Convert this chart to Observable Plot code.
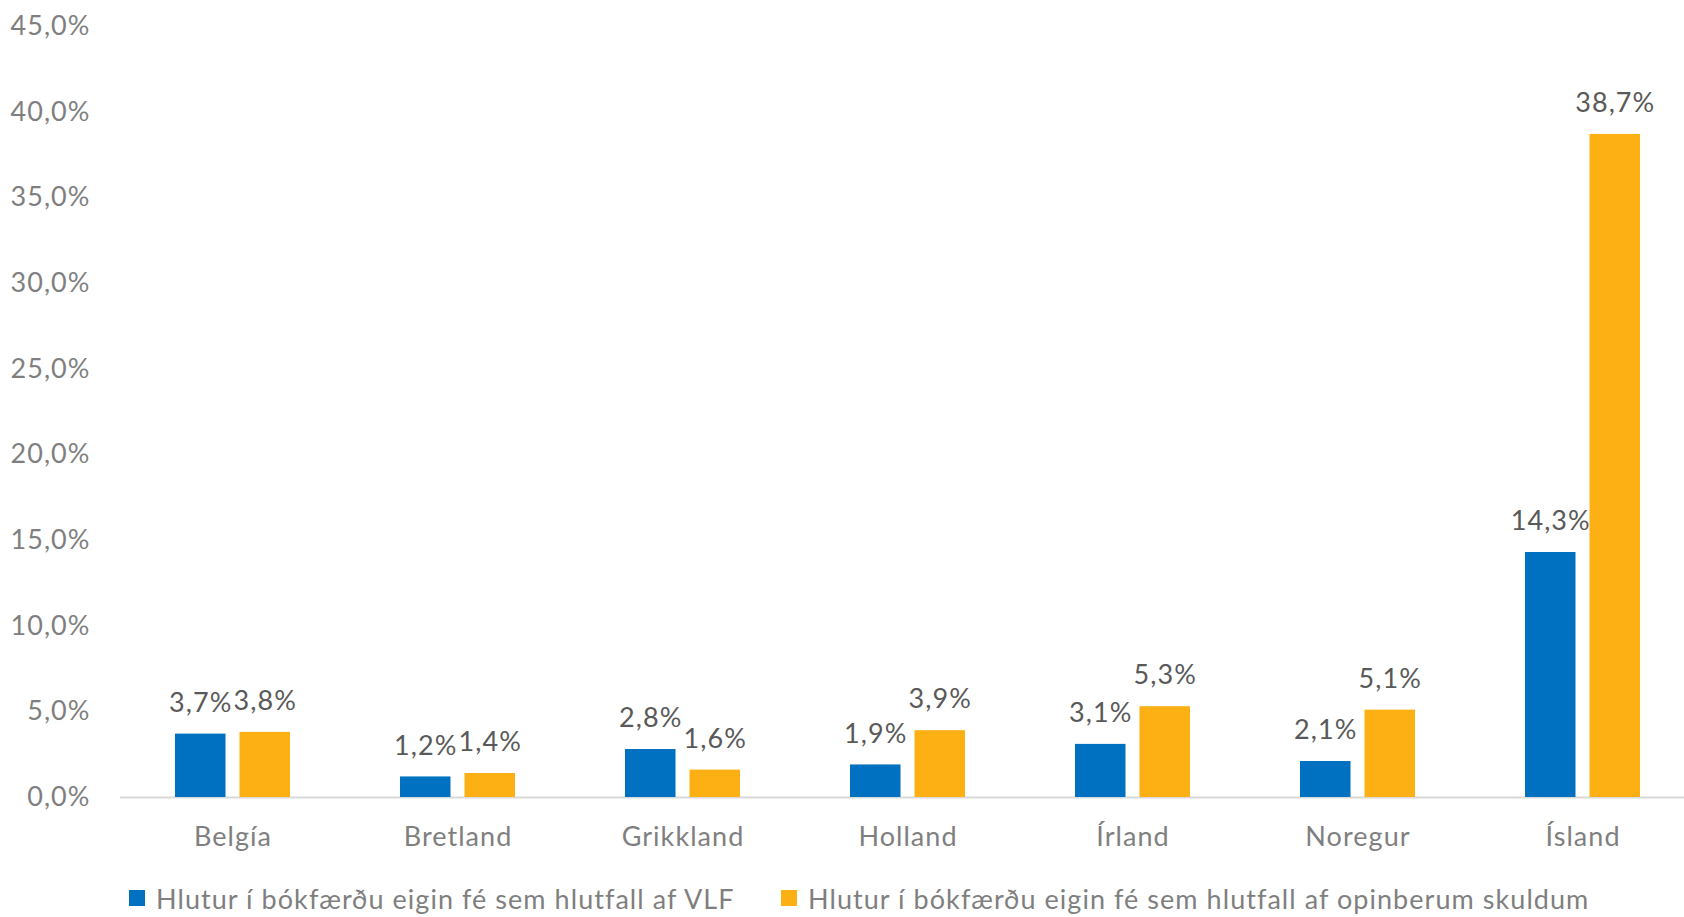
<!DOCTYPE html>
<html>
<head>
<meta charset="utf-8">
<script src="https://cdn.jsdelivr.net/npm/d3@7"></script>
<script src="https://cdn.jsdelivr.net/npm/@observablehq/plot@0.6"></script>
<style>
  html, body { margin: 0; padding: 0; background: #fff; overflow: hidden; }
  #wrap { position: relative; width: 1684px; height: 917px; font-family: Lato, "Open Sans", sans-serif; }
  #chart svg text { letter-spacing: 1.05px; }
  #legend { position: absolute; left: 0; top: 877px; height: 42px; width: 1684px; }
  .li { position: absolute; top: 0; display: flex; align-items: center; height: 42px; font-size: 27px; color: #7f7f7f; white-space: nowrap; letter-spacing: 1.05px; }
  .sw { width: 16px; height: 16px; margin-right: 11px; }
</style>
</head>
<body>
<div id="wrap">
  <div id="chart"></div>
  <div id="legend"></div>
</div>
<script>
const countries = ["Belgía", "Bretland", "Grikkland", "Holland", "Írland", "Noregur", "Ísland"];
const seriesNames = [
  "Hlutur í bókfærðu eigin fé sem hlutfall af VLF",
  "Hlutur í bókfærðu eigin fé sem hlutfall af opinberum skuldum"
];
const shareOfGDP = [3.7, 1.2, 2.8, 1.9, 3.1, 2.1, 14.3];
const shareOfDebt = [3.8, 1.4, 1.6, 3.9, 5.3, 5.1, 38.7];
const yTicks = [0, 5, 10, 15, 20, 25, 30, 35, 40, 45];
const colors = ["#0070C0", "#FCB013"];

const fmt = d => d.toFixed(1).replace(".", ",") + "%";
const gdpData = countries.map((c, i) => ({country: c, value: shareOfGDP[i]}));
const debtData = countries.map((c, i) => ({country: c, value: shareOfDebt[i]}));

const bandInner = 0.49;
const groupW = 115, barW = 50.5;
const inset = groupW - barW;
const off = groupW / 2 - barW / 2;

const chart = Plot.plot({
  width: 1684,
  height: 870,
  marginLeft: 120,
  marginRight: -11,
  marginTop: 26,
  marginBottom: 73,
  style: {fontFamily: "Lato, 'Open Sans', sans-serif", fontSize: "27px", color: "#7f7f7f", background: "#fff", overflow: "visible"},
  x: {domain: countries, paddingInner: bandInner, paddingOuter: bandInner / 2, label: null},
  y: {domain: [0, 45], label: null},
  marks: [
    Plot.axisY({ticks: yTicks, tickFormat: fmt, tickSize: 0, tickPadding: 30, fill: "#7f7f7f", fontSize: 27, label: null}),
    Plot.axisX({tickSize: 0, tickPadding: 29, fill: "#7f7f7f", fontSize: 27, label: null}),
    Plot.ruleY([0], {stroke: "#d9d9d9", strokeWidth: 2}),
    Plot.barY(gdpData, {x: "country", y: "value", fill: colors[0], insetRight: inset}),
    Plot.barY(debtData, {x: "country", y: "value", fill: colors[1], insetLeft: inset}),
    Plot.text(gdpData, {x: "country", y: "value", text: d => fmt(d.value), dx: -off, dy: -31, fill: "#595959", fontSize: 27, lineAnchor: "middle"}),
    Plot.text(debtData, {x: "country", y: "value", text: d => fmt(d.value), dx: off, dy: -31, fill: "#595959", fontSize: 27, lineAnchor: "middle"})
  ]
});
document.getElementById("chart").appendChild(chart);

const legend = document.getElementById("legend");
const lefts = [129, 781];
seriesNames.forEach((name, i) => {
  const item = document.createElement("div");
  item.className = "li";
  item.style.left = lefts[i] + "px";
  const sw = document.createElement("span");
  sw.className = "sw";
  sw.style.background = colors[i];
  const t = document.createElement("span");
  t.textContent = name;
  item.appendChild(sw);
  item.appendChild(t);
  legend.appendChild(item);
});
</script>
</body>
</html>
